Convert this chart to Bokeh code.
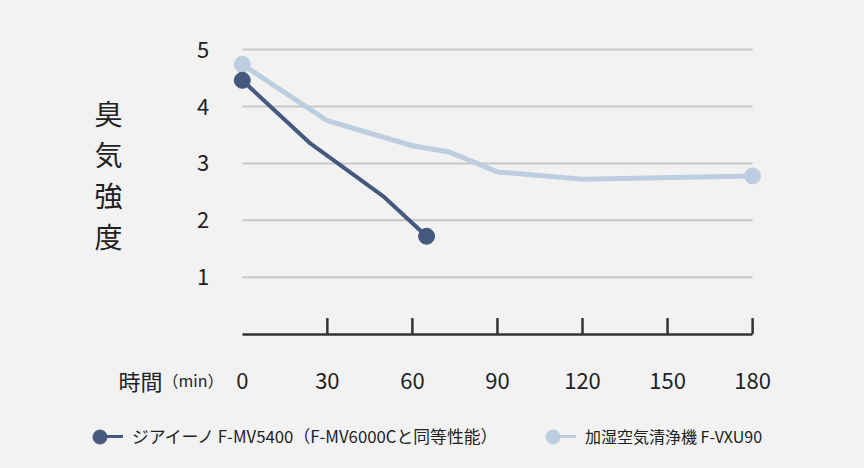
from bokeh.plotting import figure
from bokeh.models import Range1d, FixedTicker, Label, Legend, LegendItem
from bokeh.embed import file_html
from bokeh.resources import INLINE

FONT = "Noto Sans CJK JP"
BG = "#f2f2f2"
TEXT = "#222222"
DARK = "#45597f"
LIGHT = "#bdcee0"

# ---- data ----
series_a_name = "ジアイーノ F-MV5400（F-MV6000Cと同等性能）"
series_a_x = [0, 24, 50, 65]
series_a_y = [4.46, 3.35, 2.41, 1.72]

series_b_name = "加湿空気清浄機 F-VXU90"
series_b_x = [0, 30, 60, 73, 90, 120, 180]
series_b_y = [4.74, 3.75, 3.31, 3.20, 2.85, 2.72, 2.78]

x_ticks = [0, 30, 60, 90, 120, 150, 180]
y_ticks = [1, 2, 3, 4, 5]
y_title = "臭気強度"
x_title = "時間"
x_unit = "（min）"

# ---- canvas geometry (the plot frame covers the whole canvas) ----
W, H = 864, 468
X0_PX, PX_PER_X = 241.8, 2.835     # x = 0 position and scale
Y0_PX, PX_PER_Y = 333.6, 56.9      # y = 0 position (from top) and scale

p = figure(width=W, height=H,
           x_range=Range1d(-X0_PX / PX_PER_X, (W - X0_PX) / PX_PER_X),
           y_range=Range1d(-(H - Y0_PX) / PX_PER_Y, Y0_PX / PX_PER_Y),
           output_backend="svg", toolbar_location=None, min_border=0,
           background_fill_color=BG, border_fill_color=BG,
           outline_line_color=None)
p.grid.visible = False

# horizontal grid lines limited to the x extent of the axis
n = len(y_ticks)
p.segment(x0=[x_ticks[0]] * n, x1=[x_ticks[-1]] * n, y0=y_ticks, y1=y_ticks,
          line_color="#c8c8c8", line_width=2)

# inward tick marks (none at the origin)
tick_len = 16 / PX_PER_Y
m = len(x_ticks) - 1
p.segment(x0=x_ticks[1:], x1=x_ticks[1:], y0=[0] * m, y1=[tick_len] * m,
          line_color="#333333", line_width=2.5)

# series
lb = p.line(series_b_x, series_b_y, line_color=LIGHT, line_width=5)
sb = p.scatter([series_b_x[0], series_b_x[-1]], [series_b_y[0], series_b_y[-1]],
               size=16, color=LIGHT)
la = p.line(series_a_x, series_a_y, line_color=DARK, line_width=4)
sa = p.scatter([series_a_x[0], series_a_x[-1]], [series_a_y[0], series_a_y[-1]],
               size=16, color=DARK)

# legend key lines (thinner; a single point draws nothing on the chart)
la_key = p.line(series_a_x[:1], series_a_y[:1], line_color=DARK, line_width=3)
lb_key = p.line(series_b_x[:1], series_b_y[:1], line_color=LIGHT, line_width=3)

xa = p.xaxis[0]
xa.fixed_location = 0
xa.ticker = FixedTicker(ticks=x_ticks)
xa.bounds = (x_ticks[0], x_ticks[-1])
xa.axis_line_color = "#333333"
xa.axis_line_width = 2.5
xa.major_tick_line_color = None
xa.minor_tick_line_color = None
xa.major_label_text_font = FONT
xa.major_label_text_font_size = "22px"
xa.major_label_text_color = TEXT
xa.major_label_standoff = 33

ya = p.yaxis[0]
ya.fixed_location = 0
ya.ticker = FixedTicker(ticks=y_ticks)
ya.axis_line_color = None
ya.major_tick_line_color = None
ya.minor_tick_line_color = None
ya.major_label_text_font = FONT
ya.major_label_text_font_size = "22px"
ya.major_label_text_color = TEXT
ya.major_label_standoff = 27

# stacked y-axis title (screen pixels from the canvas' bottom-left)
for i, ch in enumerate(y_title):
    p.add_layout(Label(x=108, y=356 - 41 * i, x_units="screen", y_units="screen",
                       text=ch, text_align="center", text_baseline="middle",
                       text_font=FONT, text_font_size="28px",
                       text_color=TEXT))

# x-axis title, left of the tick labels
p.add_layout(Label(x=118, y=89, x_units="screen", y_units="screen",
                   text=x_title, text_align="left",
                   text_baseline="middle", text_font=FONT,
                   text_font_size="22px", text_color=TEXT))
p.add_layout(Label(x=162, y=89, x_units="screen", y_units="screen",
                   text=x_unit, text_align="left",
                   text_baseline="middle", text_font=FONT,
                   text_font_size="16px", text_color=TEXT))

# legend: line + label, then the circle key on top of the line's left end
common = dict(label_text_font=FONT, label_text_color=TEXT,
              padding=0, margin=0, spacing=0,
              border_line_color=None, background_fill_alpha=0)
line_keys = [(la_key, series_a_name, 99, "16.8px"),
             (lb_key, series_b_name, 552, "16px")]
for r, name, lx, fs in line_keys:
    p.add_layout(Legend(items=[LegendItem(label=name, renderers=[r])],
                        location=(lx, 20), glyph_width=24, glyph_height=24,
                        label_standoff=9, label_text_font_size=fs, **common))
dot_keys = [(sa, 81.5), (sb, 534.5)]
for r, lx in dot_keys:
    p.add_layout(Legend(items=[LegendItem(label=" ", renderers=[r])],
                        location=(lx, 14.5), glyph_width=35, glyph_height=35,
                        label_standoff=0, label_text_font_size="16px", **common))

html = file_html(p, INLINE)
html = html.replace("</head>", "<style>html,body{background:#f2f2f2;}</style></head>", 1)
open("out.html", "w").write(html)
